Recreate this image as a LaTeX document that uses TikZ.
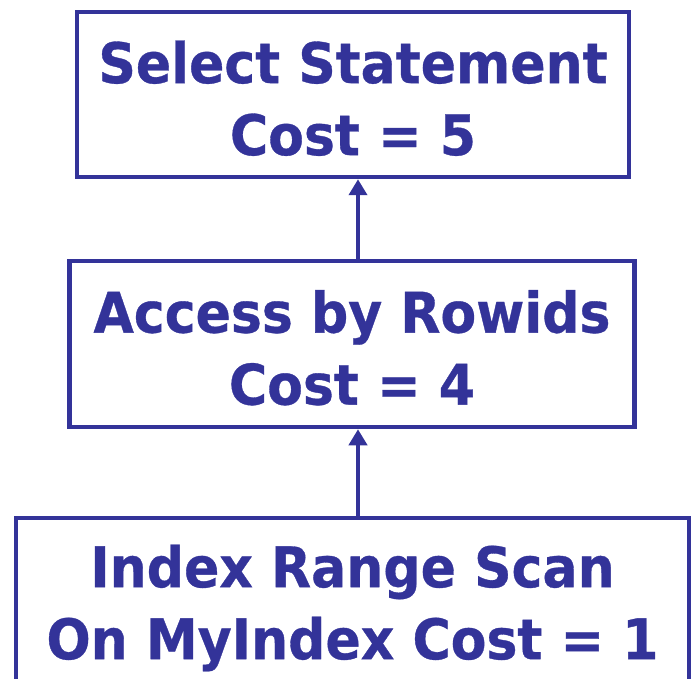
\documentclass[tikz,border=0pt]{standalone}
\usepackage{fontspec}
\newfontfamily\boxfont{DejaVu Sans}[FakeStretch=0.93,FakeBold=0.6]
\usetikzlibrary{arrows.meta,calc}
\definecolor{planblue}{HTML}{333399}
% taller first line, so the two lines sit a little lower in the box
\newcommand{\topstrut}{\rule{0pt}{50pt}}
\begin{document}
\begin{tikzpicture}[x=1pt,y=-1pt,
  planbox/.style={draw=planblue, line width=4.5pt, rectangle, inner sep=0pt,
    text=planblue, align=center, font=\boxfont\bfseries\fontsize{56}{72}\selectfont},
  flow/.style={draw=planblue, line width=4.5pt, -{Triangle[width=18pt,length=16pt]}}]
  \useasboundingbox (0,0) rectangle (696,679);
  % plan steps, from the root down
  \node[planbox, minimum width=552pt, minimum height=165pt] (sel) at (353,94.5)
    {\topstrut Select Statement\\Cost = 5};
  \node[planbox, minimum width=565pt, minimum height=166pt] (acc) at (352,344)
    {\topstrut Access by Rowids\\Cost = 4};
  \node[planbox, minimum width=673pt, minimum height=180pt] (scan) at (352.5,608)
    {Index Range Scan\\On MyIndex Cost = 1};
  % row sources feed their parents
  \draw[flow] ($(acc.north)+(6,0)$) -- ($(sel.south)+(5,0)$);
  \draw[flow] ($(scan.north)+(5.5,0)$) -- ($(acc.south)+(6,0)$);
\end{tikzpicture}
\end{document}
